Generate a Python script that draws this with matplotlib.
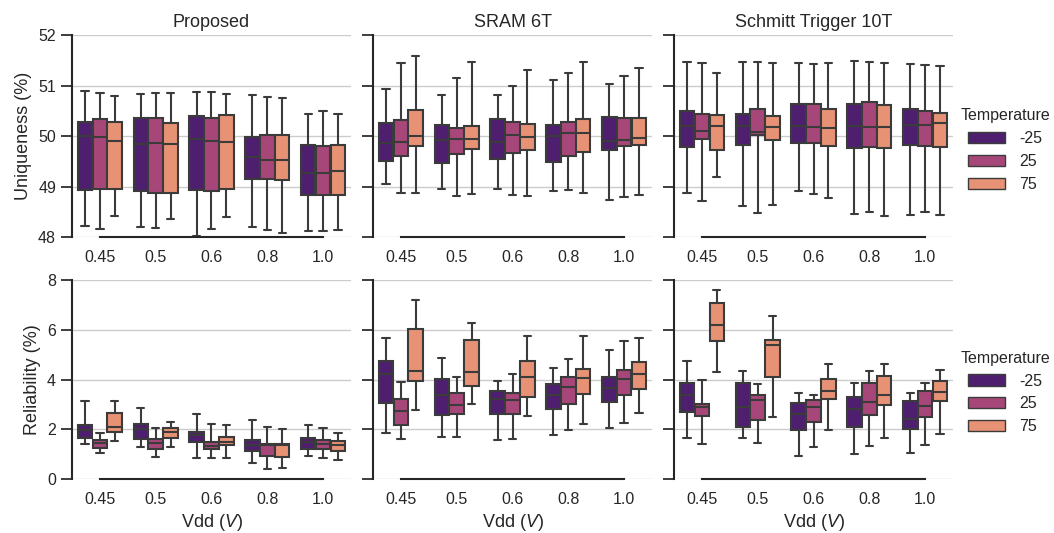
import numpy as np
import matplotlib.pyplot as plt
from matplotlib.patches import Patch
import seaborn as sns

sns.set_style("ticks", {"axes.grid": True})
plt.rcParams['font.family'] = ['Liberation Sans', 'DejaVu Sans']
plt.rcParams['mathtext.fontset'] = 'custom'
plt.rcParams['mathtext.rm'] = 'Liberation Sans'
plt.rcParams['mathtext.it'] = 'Liberation Sans:italic'

vdd = ['0.45', '0.5', '0.6', '0.8', '1.0']
temps = ['-25', '25', '75']
designs = ['Proposed', 'SRAM 6T', 'Schmitt Trigger 10T']

# one row per box: whislo, q1, med, q3, whishi  (vdd order, then temperature)
uniq_proposed = [
    [48.22, 48.94, 50.01, 50.27, 50.89], [48.16, 48.95, 49.99, 50.34, 50.85], [48.41, 48.95, 49.91, 50.28, 50.80],
    [48.20, 48.91, 49.85, 50.36, 50.84], [48.17, 48.87, 49.87, 50.36, 50.86], [48.36, 48.87, 49.84, 50.26, 50.86],
    [48.03, 48.94, 49.95, 50.40, 50.88], [48.16, 48.92, 49.91, 50.36, 50.88], [48.40, 48.96, 49.88, 50.42, 50.84],
    [48.20, 49.15, 49.58, 49.99, 50.81], [48.13, 49.14, 49.53, 50.02, 50.77], [48.07, 49.12, 49.52, 50.02, 50.75],
    [48.11, 48.83, 49.27, 49.82, 50.44], [48.12, 48.83, 49.27, 49.80, 50.49], [48.13, 48.83, 49.30, 49.82, 50.44],
]
uniq_sram = [
    [49.05, 49.51, 49.86, 50.26, 50.93], [48.88, 49.60, 49.89, 50.32, 51.45], [48.88, 49.80, 50.00, 50.52, 51.58],
    [48.95, 49.47, 49.92, 50.22, 50.81], [48.81, 49.64, 49.95, 50.15, 51.15], [48.86, 49.74, 49.95, 50.19, 51.46],
    [48.95, 49.54, 49.89, 50.34, 50.81], [48.84, 49.66, 50.02, 50.27, 51.00], [48.82, 49.73, 49.98, 50.23, 51.31],
    [48.91, 49.48, 50.01, 50.22, 51.10], [48.94, 49.61, 50.05, 50.27, 51.25], [48.87, 49.69, 50.06, 50.34, 51.46],
    [48.73, 49.73, 49.90, 50.38, 51.03], [48.79, 49.81, 49.92, 50.35, 51.18], [48.83, 49.83, 49.96, 50.36, 51.34],
]
uniq_schmitt = [
    [48.87, 49.78, 50.20, 50.50, 51.46], [48.71, 49.94, 50.10, 50.44, 51.44], [49.19, 49.73, 50.19, 50.42, 51.25],
    [48.62, 49.83, 50.19, 50.44, 51.47], [48.48, 50.03, 50.08, 50.54, 51.47], [48.63, 49.93, 50.18, 50.40, 51.45],
    [48.91, 49.86, 50.19, 50.63, 51.44], [48.85, 49.86, 50.18, 50.64, 51.42], [48.77, 49.80, 50.16, 50.54, 51.44],
    [48.46, 49.77, 50.19, 50.64, 51.49], [48.50, 49.79, 50.18, 50.67, 51.46], [48.41, 49.77, 50.18, 50.62, 51.45],
    [48.44, 49.82, 50.21, 50.53, 51.42], [48.50, 49.80, 50.22, 50.50, 51.40], [48.43, 49.78, 50.26, 50.45, 51.39],
]
rel_proposed = [
    [1.43, 1.67, 1.98, 2.19, 3.13], [1.07, 1.26, 1.44, 1.58, 1.85], [1.53, 1.89, 2.11, 2.65, 3.13],
    [1.28, 1.62, 2.01, 2.21, 2.88], [0.91, 1.23, 1.46, 1.62, 2.06], [1.31, 1.66, 1.90, 2.06, 2.30],
    [0.87, 1.48, 1.79, 1.90, 2.60], [0.84, 1.20, 1.34, 1.48, 2.21], [0.86, 1.36, 1.51, 1.69, 2.19],
    [0.67, 1.15, 1.39, 1.58, 2.38], [0.41, 0.94, 1.36, 1.40, 2.11], [0.44, 0.91, 1.36, 1.40, 2.02],
    [0.94, 1.23, 1.51, 1.65, 2.17], [0.86, 1.23, 1.43, 1.57, 2.07], [0.76, 1.15, 1.38, 1.54, 1.86],
]
rel_sram = [
    [1.87, 3.08, 4.23, 4.75, 5.67], [1.63, 2.17, 2.72, 3.24, 3.92], [2.78, 3.95, 4.35, 6.02, 7.20],
    [1.69, 2.56, 3.40, 4.01, 4.88], [1.71, 2.60, 2.97, 3.45, 4.12], [3.02, 3.73, 4.31, 5.58, 6.29],
    [1.58, 2.60, 3.24, 3.55, 3.93], [1.62, 2.62, 3.17, 3.48, 4.21], [2.53, 3.32, 4.12, 4.75, 5.75],
    [1.77, 2.84, 3.38, 3.81, 4.47], [1.98, 3.02, 3.69, 4.09, 4.84], [2.21, 3.42, 4.08, 4.41, 5.75],
    [2.05, 3.09, 3.68, 4.12, 5.19], [2.27, 3.40, 4.04, 4.39, 5.53], [2.64, 3.61, 4.21, 4.72, 5.65],
]
rel_schmitt = [
    [1.66, 2.69, 3.37, 3.85, 4.76], [1.42, 2.52, 2.90, 3.01, 3.99], [4.31, 5.55, 6.21, 7.06, 7.60],
    [1.66, 2.09, 2.92, 3.88, 4.33], [1.46, 2.38, 3.18, 3.38, 3.84], [2.50, 4.12, 5.38, 5.59, 6.54],
    [0.95, 1.98, 2.62, 3.05, 3.45], [1.31, 2.30, 2.90, 3.17, 3.37], [1.98, 3.24, 3.55, 4.01, 4.63],
    [1.00, 2.09, 2.82, 3.30, 3.87], [1.34, 2.56, 3.12, 3.85, 4.36], [1.65, 2.98, 3.38, 4.15, 4.63],
    [1.07, 2.02, 2.43, 3.16, 3.45], [1.38, 2.50, 2.94, 3.53, 3.85], [1.82, 3.13, 3.51, 3.93, 4.40],
]

pal = [sns.desaturate(c, 0.75) for c in sns.color_palette('magma', 3)]
edge = '#3b3b3b'
lw = 1.5
hue_w = 0.8 / len(temps)

rows = [
    ([uniq_proposed, uniq_sram, uniq_schmitt], (48, 52), [48, 49, 50, 51, 52], 'Uniqueness (%)', 0.5553, 0.379),
    ([rel_proposed, rel_sram, rel_schmitt], (0, 8), [0, 2, 4, 6, 8], 'Reliability (%)', 0.1008, 0.374),
]
lefts = [0.0683, 0.3539, 0.6395]
legend_y = [0.7186, 0.2636]

fig = plt.figure(figsize=(10.54, 5.33), dpi=100)

for r, (panels, ylim, yticks, ylabel, bottom, height) in enumerate(rows):
    for c, data in enumerate(panels):
        ax = fig.add_axes([lefts[c], bottom, 0.2647, height])
        stats = np.array(data)
        for i in range(len(vdd)):
            for j in range(len(temps)):
                lo, q1, med, q3, hi = stats[i * len(temps) + j]
                pos = i + (j - 1) * hue_w
                ax.bxp([dict(whislo=lo, q1=q1, med=med, q3=q3, whishi=hi)],
                       positions=[pos], widths=hue_w * 0.98, patch_artist=True,
                       showfliers=False, manage_ticks=False,
                       boxprops=dict(facecolor=pal[j], edgecolor=edge, linewidth=lw),
                       medianprops=dict(color=edge, linewidth=lw),
                       whiskerprops=dict(color=edge, linewidth=lw),
                       capprops=dict(color=edge, linewidth=lw))
        ax.set_xlim(-0.5, len(vdd) - 0.5)
        ax.set_xticks(range(len(vdd)))
        ax.set_xticklabels(vdd)
        ax.set_ylim(*ylim)
        ax.set_yticks(yticks)
        ax.xaxis.grid(False)
        ax.yaxis.grid(True, color='.8', linewidth=1)
        ax.set_axisbelow(True)
        ax.tick_params(axis='x', length=0, pad=9, labelsize=11.5, colors='.15')
        ax.tick_params(axis='y', length=8, width=1.25, labelsize=11.5, colors='.15')
        if c == 0:
            ax.set_ylabel(ylabel, fontsize=13, color='.15')
        else:
            ax.tick_params(axis='y', labelleft=False)
        if r == 0:
            ax.set_title(designs[c], fontsize=13, color='.15')
        else:
            ax.set_xlabel('Vdd ($V$)', fontsize=13, color='.15')
        sns.despine(ax=ax, trim=True)
        for s in ['left', 'bottom']:
            ax.spines[s].set_linewidth(1.5)
            ax.spines[s].set_color('.15')

    handles = [Patch(facecolor=pal[j], edgecolor=edge, linewidth=1, label=temps[j])
               for j in range(len(temps))]
    fig.legend(handles=handles, title='Temperature', loc='center left',
               bbox_to_anchor=(0.905, legend_y[r]),
               frameon=False, fontsize=11.5, title_fontsize=11.5,
               handlelength=2.3, handletextpad=0.85, borderaxespad=0)

fig.savefig('out.png', dpi=100)
